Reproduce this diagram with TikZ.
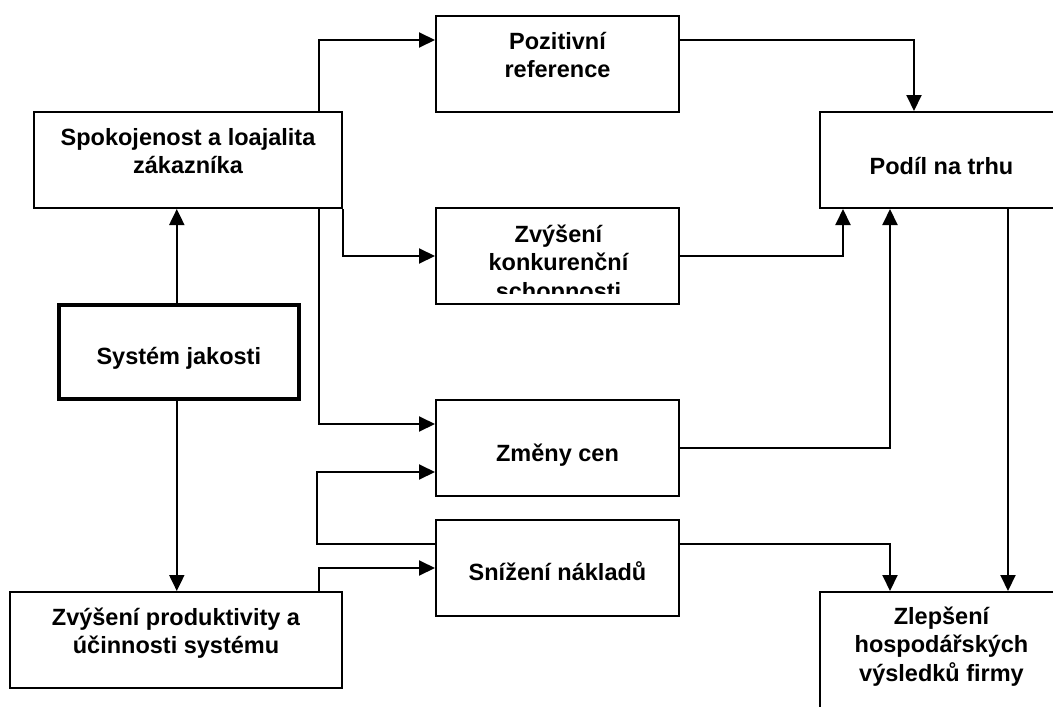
\documentclass[tikz,border=0pt]{standalone}
\usepackage{fontspec}
\setmainfont{Liberation Sans}
\usetikzlibrary{arrows.meta}
\newcommand{\bt}[4]{\parbox[c][#2][t]{#1}{\centering\rule{0pt}{#3}#4}}
\tikzset{
  box/.style={draw, line width=2pt, inner sep=0pt, anchor=north west,
    font=\bfseries\fontsize{23.5}{28.5}\selectfont},
  thickbox/.style={box, line width=3.6pt},
  conn/.style={line width=2pt},
  arr/.style={conn, -{Triangle[length=16pt,width=15pt]}},
}
\begin{document}
\begin{tikzpicture}[x=1pt,y=-1pt]
\clip (0,0) rectangle (1053,707);
\useasboundingbox (0,0) rectangle (1053,707);
% boxes
\node[box] (spok) at (33,111) {\bt{308pt}{96pt}{33pt}{Spokojenost a loajalita\\zákazníka}};
\node[box] (pos) at (435,15) {\bt{243pt}{96pt}{33pt}{Pozitivní\\reference}};
\node[box, path picture={
    \clip (path picture bounding box.north west) rectangle ([yshift=11pt]path picture bounding box.south east);
    \node[inner sep=0pt, anchor=north west, font=\bfseries\fontsize{23.5}{28.5}\selectfont]
      at (path picture bounding box.north west)
      {\bt{243pt}{96pt}{33pt}{Zvýšení\\konkurenční\\schopnosti}};
  }] (konk) at (435,207) {\parbox[c][96pt][t]{243pt}{\mbox{}}};
\node[thickbox] (sys) at (57,303) {\bt{240pt}{94pt}{60pt}{Systém jakosti}};
\node[box] (podil) at (819,111) {\bt{243pt}{96pt}{62pt}{Podíl na trhu}};
\node[box] (zmeny) at (435,399) {\bt{243pt}{96pt}{61pt}{Změny cen}};
\node[box] (sniz) at (435,519) {\bt{243pt}{96pt}{60pt}{Snížení nákladů}};
\node[box] (prod) at (9,591) {\bt{332pt}{96pt}{33pt}{Zvýšení produktivity a\\účinnosti systému}};
\node[box] (zlep) at (819,591) {\bt{243pt}{140pt}{32pt}{Zlepšení\\hospodářských\\výsledků firmy}};
% connectors
\draw[arr] ([xshift=-24pt]spok.north east) |- ([yshift=24pt]pos.west);
\draw[arr] ([yshift=24pt]pos.east) -| ([xshift=95pt]podil.north west);
\draw[arr] (spok.south east) |- (konk.west);
\draw[arr] (konk.east) -| ([xshift=24pt]podil.south west);
\draw[arr] ([xshift=-24pt]spok.south east) |- ([yshift=24pt]zmeny.west);
\draw[arr] ([xshift=-2pt]sys.north) -- ([xshift=-2pt]sys.north |- spok.south);
\draw[arr] ([xshift=-2pt]sys.south) -- ([xshift=-2pt]sys.south |- prod.north);
\draw[arr] (zmeny.east) -| ([xshift=71pt]podil.south west);
\draw[arr] ([yshift=24pt]sniz.west) -- ++(-118pt,0pt) |- ([yshift=-24pt]zmeny.west);
\draw[arr] ([xshift=-24pt]prod.north east) |- (sniz.west);
\draw[arr] ([yshift=24pt]sniz.east) -| ([xshift=71pt]zlep.north west);
\draw[arr] ([xshift=189pt]podil.south west) -- ([xshift=189pt]podil.south west |- zlep.north);
\end{tikzpicture}
\end{document}
